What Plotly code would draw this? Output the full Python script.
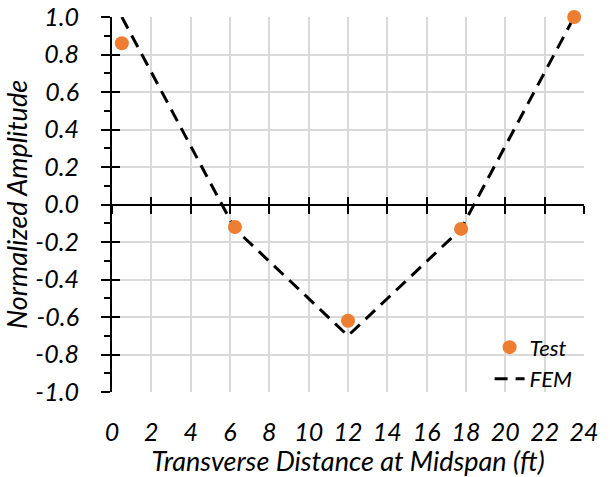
import plotly.graph_objects as go

# Data
test_x = [0.5, 6.25, 12.0, 17.75, 23.5]
test_y = [0.86, -0.12, -0.62, -0.13, 1.0]
fem_x = [0.5, 6.25, 12.0, 17.75, 23.5]
fem_y = [1.0, -0.13, -0.70, -0.13, 1.0]

x_ticks = list(range(0, 25, 2))
x_labels = [str(v) for v in x_ticks]
y_ticks = [1.0, 0.8, 0.6, 0.4, 0.2, 0.0, -0.2, -0.4, -0.6, -0.8, -1.0]
y_labels = ["1.0", "0.8", "0.6", "0.4", "0.2", "0.0", "-0.2", "-0.4", "-0.6", "-0.8", "-1.0"]

FONT = "Lato"
fsize = 25
tsize = 27

fig = go.Figure()
fig.add_trace(go.Scatter(
    x=fem_x, y=fem_y, mode="lines", name="FEM",
    line=dict(color="black", width=3, dash="13px,8px"),
))
fig.add_trace(go.Scatter(
    x=test_x, y=test_y, mode="markers", name="Test", cliponaxis=False,
    marker=dict(color="#ED7D31", size=14),
))

grid = "#d9d9d9"
fig.update_layout(
    width=610, height=477,
    margin=dict(l=112, r=26, t=17, b=85),
    plot_bgcolor="white", paper_bgcolor="white",
    font=dict(family=FONT, size=fsize, color="black", style="italic"),
    showlegend=True,
    legend=dict(x=0.80, y=0.175, xanchor="left", yanchor="top",
                bgcolor="rgba(0,0,0,0)", traceorder="reversed",
                font=dict(family=FONT, size=22, style="italic"),
                itemwidth=30, tracegroupgap=0),
    xaxis=dict(
        range=[0, 24], tickvals=x_ticks, ticktext=x_labels, automargin=False,
        showgrid=True, gridcolor=grid, gridwidth=1.5,
        zeroline=False, showline=False, ticklabeloverflow="allow",
        ticks="outside", ticklen=18, tickcolor="rgba(0,0,0,0)",
        tickfont=dict(family=FONT, size=fsize, style="italic"),
        title=dict(text="Transverse Distance at Midspan (ft)", standoff=0,
                   font=dict(family=FONT, size=tsize, style="italic")),
    ),
    xaxis2=dict(
        range=[0, 24], tickvals=x_ticks, overlaying="x", anchor="free", position=0.5,
        showticklabels=False, showgrid=False, zeroline=False, showline=False,
        ticks="outside", ticklen=8, tickwidth=2, tickcolor="black",
    ),
    xaxis3=dict(
        range=[0, 24], tickvals=x_ticks, overlaying="x", anchor="free", position=0.5,
        showticklabels=False, showgrid=False, zeroline=False, showline=False,
        ticks="inside", ticklen=8, tickwidth=2, tickcolor="black",
    ),
    yaxis=dict(
        range=[-1, 1], tickvals=y_ticks, ticktext=y_labels, automargin=False,
        showgrid=True, gridcolor=grid, gridwidth=1.5,
        zeroline=True, zerolinecolor="black", zerolinewidth=2,
        showline=True, linecolor="black", linewidth=2, ticklabeloverflow="allow",
        ticks="outside", ticklen=9, tickwidth=2, tickcolor="black",
        minor=dict(dtick=0.1, ticks="outside", ticklen=6, tickwidth=2,
                   tickcolor="black", showgrid=False),
        ticklabelstandoff=17,
        tickfont=dict(family=FONT, size=fsize, style="italic"),
        title=dict(text="Normalized Amplitude", standoff=1,
                   font=dict(family=FONT, size=tsize, style="italic")),
    ),
    yaxis2=dict(
        range=[-1, 1], tickvals=y_ticks, overlaying="y", side="left", anchor="x",
        showticklabels=False, showgrid=False, zeroline=False, showline=False,
        ticks="inside", ticklen=8, tickwidth=2, tickcolor="black",
    ),
)

# invisible helper traces so the overlay axes are drawn
fig.add_trace(go.Scatter(x=[None], y=[None], xaxis="x2", yaxis="y", showlegend=False, hoverinfo="skip"))
fig.add_trace(go.Scatter(x=[None], y=[None], xaxis="x3", yaxis="y", showlegend=False, hoverinfo="skip"))
fig.add_trace(go.Scatter(x=[None], y=[None], xaxis="x", yaxis="y2", showlegend=False, hoverinfo="skip"))

fig.write_html("out.html", config={"displayModeBar": False},
               post_script="document.body.style.margin='0';")
